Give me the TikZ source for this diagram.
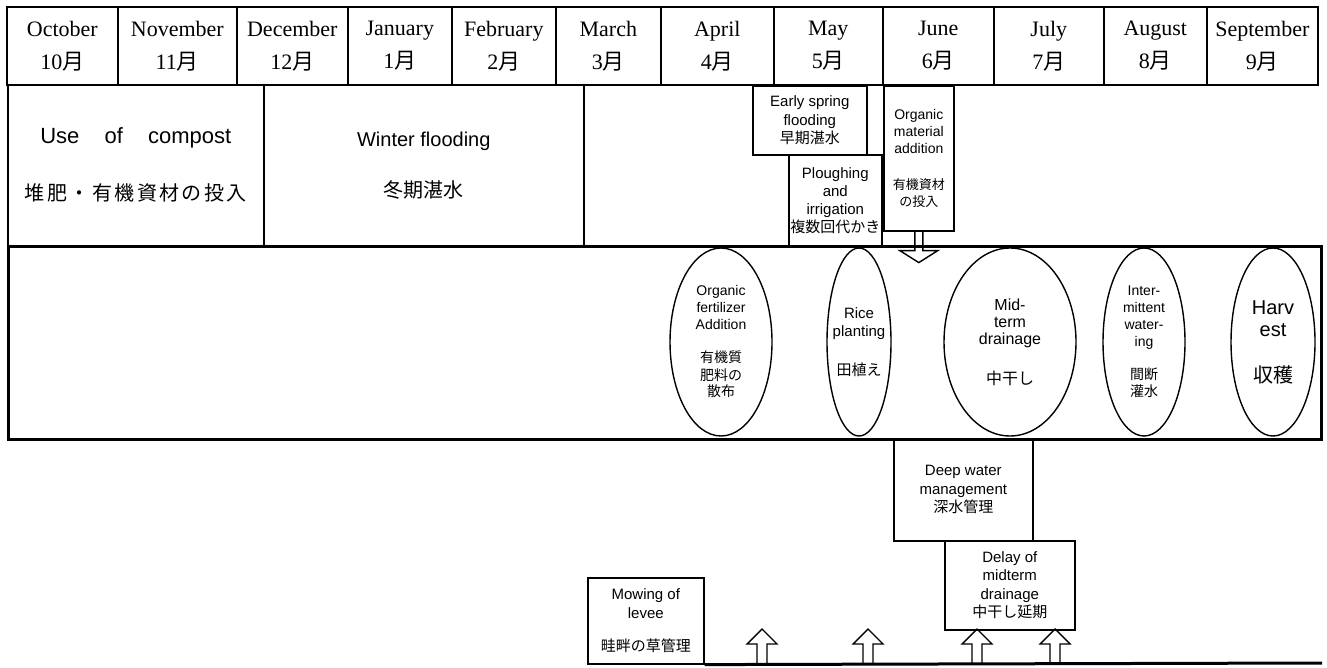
\documentclass[tikz,border=0pt]{standalone}
\usepackage{fontspec}
\setmainfont{Liberation Sans}
\newfontfamily\jpf{Noto Sans CJK JP}
\newfontfamily\serf{Liberation Serif}
\usetikzlibrary{shapes.geometric}
\newcommand\jp[1]{{\jpf #1}}
\newcommand\fs[2]{\fontsize{#1}{#2}\selectfont}
\begin{document}
\begin{tikzpicture}[x=1pt,y=-1pt,
  cell/.style={draw, line width=1.6pt, inner sep=0pt, anchor=north west, align=center},
  month/.style={cell, minimum height=78pt, font=\serf\fs{22}{33}},
  ell/.style={draw, ellipse, line width=1.4pt, inner sep=0pt, minimum height=188pt},
  etxt/.style={inner sep=0pt, align=center},
  hollow/.style={draw, line width=1.4pt, line join=miter}]
\useasboundingbox (0,0) rectangle (1327,668);
% header
\node[month, minimum width=111pt] (oct) at (6,6) {October\\10\jp{月}};
\node[month, minimum width=119pt] (nov) at (117,6) {November\\11\jp{月}};
\node[month, minimum width=111pt] (dec) at (236,6) {December\\12\jp{月}};
\node[month, minimum width=104pt] (jan) at (347,6) {January\\1\jp{月}};
\node[month, minimum width=104pt] (feb) at (451,6) {February\\2\jp{月}};
\node[month, minimum width=105pt] (mar) at (555,6) {March\\3\jp{月}};
\node[month, minimum width=113pt] (apr) at (660,6) {April\\4\jp{月}};
\node[month, minimum width=109pt] (may) at (773,6) {May\\5\jp{月}};
\node[month, minimum width=111pt] (jun) at (882,6) {June\\6\jp{月}};
\node[month, minimum width=110pt] (jul) at (993,6) {July\\7\jp{月}};
\node[month, minimum width=103pt] (aug) at (1103,6) {August\\8\jp{月}};
\node[month, minimum width=111pt] (sep) at (1206,6) {September\\9\jp{月}};
% second row
\node[cell, minimum width=256pt, minimum height=161pt, font=\fs{22}{57}] (compost) at (7,84)
  {\makebox[191pt]{Use\hfill of\hfill compost}\\
   \makebox[222pt]{\jpf\fontsize{20}{57}\selectfont 堆\hfill 肥\hfill ・\hfill 有\hfill 機\hfill 資\hfill 材\hfill の\hfill 投\hfill 入}};
\node[cell, minimum width=320pt, minimum height=161pt, font=\fs{20}{51}] (winter) at (263,84)
  {Winter flooding\\\jp{冬期湛水}};
\node[cell, minimum width=114pt, minimum height=69pt, font=\fs{15}{18.5}] (early) at (752,85)
  {Early spring\\flooding\\\jp{早期湛水}};
\node[cell, minimum width=93pt, minimum height=91pt, font=\fs{15}{18}] (plough) at (788,154)
  {Ploughing\\and\\irrigation\\\jp{複数回代かき}};
\node[cell, minimum width=70pt, minimum height=145pt, font=\fs{14}{17}] (orgm) at (883,85)
  {Organic\\material\\addition\\[19pt]{\jpf\fontsize{13}{17}\selectfont 有機資材}\\{\jpf\fontsize{13}{17}\selectfont の投入}};
% field box
\node[draw, line width=3pt, minimum width=1313pt, minimum height=193pt, anchor=north west, inner sep=0pt] (field) at (7,245) {};
\begin{scope}[shift={(orgm.south)}]
\draw[hollow] (-4,0) -- (-4,19) -- (-19,19) -- (0,31) -- (19,19) -- (4,19) -- (4,0);
\end{scope}
% ellipses
\node[ell, minimum width=102pt] (e1) at (721,342) {};
\node[etxt, font=\fs{14}{17}] (t1) at (e1) {Organic\\fertilizer\\Addition\\[16pt]\jp{有機質}\\\jp{肥料の}\\\jp{散布}};
\node[ell, minimum width=64pt] (e2) at (859,342) {};
\node[etxt, font=\fs{15}{18}] (t2) at (e2) {Rice\\planting\\[21pt]\jp{田植え}};
\node[ell, minimum width=132pt] (e3) at (1010,342) {};
\node[etxt, font=\fs{16}{17}] (t3) at (e3) {Mid-\\term\\drainage\\[23pt]\jp{中干し}};
\node[ell, minimum width=82pt] (e4) at (1144,342) {};
\node[etxt, font=\fs{14}{17}] (t4) at (e4) {Inter-\\mittent\\water-\\ing\\[16pt]\jp{間断}\\\jp{灌水}};
\node[ell, minimum width=84pt] (e5) at (1273,342) {};
\node[etxt, font=\fs{20}{22}] (t5) at (e5) {Harv\\est\\[24pt]\jp{収穫}};
% lower boxes
\node[cell, minimum width=139pt, minimum height=102pt, font=\fs{15}{18.5}] (deep) at (893,438)
  {Deep water\\management\\\jp{深水管理}};
\node[cell, minimum width=130pt, minimum height=89pt, font=\fs{15}{18.3}] (delay) at (944,540)
  {Delay of\\midterm\\drainage\\\jp{中干し延期}};
\node[cell, minimum width=116pt, minimum height=86pt, font=\fs{15}{19}] (mow) at (587,577)
  {Mowing of\\levee\\[14pt]\jp{畦畔の草管理}};
\coordinate (lineend) at (1322,663);
\draw[line width=3pt] (mow.south east) -- (lineend);
\foreach \x in {762,868,977,1055}{
  \begin{scope}[shift={(\x,663)}]
  \draw[hollow] (-5,0) -- (-5,-19) -- (-15,-19) -- (0,-34) -- (15,-19) -- (5,-19) -- (5,0);
  \end{scope}
}
\end{tikzpicture}
\end{document}
